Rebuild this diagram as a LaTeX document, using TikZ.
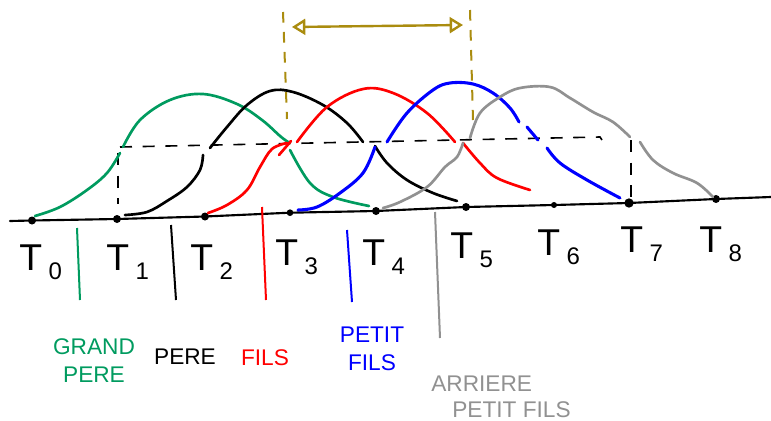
\documentclass[tikz,border=0pt]{standalone}
\usepackage{fontspec}
\setmainfont{Liberation Sans}
\usetikzlibrary{arrows.meta}
\definecolor{gen0}{RGB}{0,155,95}
\definecolor{gen4}{RGB}{145,145,145}
\definecolor{golden}{RGB}{170,140,15}
\newcommand\tlab[1]{T\hspace{5pt}\raisebox{-7pt}{\fontsize{18}{18}\selectfont #1}}
\tikzset{
  curve/.style={line width=2pt, line cap=round, line join=round},
  axisline/.style={line width=1.6pt, line cap=round},
  guide/.style={line width=1.2pt, dash pattern=on 9pt off 8pt},
  goldguide/.style={golden, line width=1.5pt, dash pattern=on 8pt off 7pt},
  sep/.style={line width=1.5pt},
  dotmark/.style={circle, fill=black, inner sep=0pt, minimum size=6pt},
  tlabel/.style={anchor=base west, inner sep=0pt, font=\fontsize{28}{28}\selectfont},
  glabel/.style={inner sep=0pt, align=center, font=\fontsize{17}{21}\selectfont}
}
\begin{document}
\begin{tikzpicture}[x=0.75pt, y=-0.75pt]
\useasboundingbox (0,0) rectangle (771,421);
% axis and tick dots
\coordinate (axL) at (10,221);
\coordinate (axR) at (771,197);
\node[dotmark] (d0) at (32,220.5) {};
\node[dotmark] (d1) at (117,219) {};
\node[dotmark] (d2) at (205,216.5) {};
\node[dotmark, minimum size=5pt] (d3) at (290,212.7) {};
\node[dotmark] (d4) at (376,211) {};
\node[dotmark] (d5) at (466,207) {};
\node[dotmark, minimum size=4.5pt] (d6) at (554,205) {};
\node[dotmark, minimum size=7pt] (d7) at (629,203) {};
\node[dotmark] (d8) at (716,199) {};
\draw[axisline] (axL) -- (d0.center) -- (d1.center) -- (d2.center) -- (d3.center) -- (d4.center) -- (d5.center) -- (d6.center) -- (d7.center) -- (d8.center) -- (axR);

% T labels
\node[tlabel] (t0) at (19,270) {\tlab{0}};
\node[tlabel] (t1) at (106,270) {\tlab{1}};
\node[tlabel] (t2) at (190,270) {\tlab{2}};
\node[tlabel] (t3) at (275,265) {\tlab{3}};
\node[tlabel] (t4) at (362,265) {\tlab{4}};
\node[tlabel] (t5) at (450,258) {\tlab{5}};
\node[tlabel] (t6) at (537,255) {\tlab{6}};
\node[tlabel] (t7) at (620,252) {\tlab{7}};
\node[tlabel] (t8) at (699,252) {\tlab{8}};

% separators
\draw[sep, gen0] (77,228) -- (80,300);
\draw[sep, black] (171,225) -- (176,300);
\draw[sep, red] (262,207) -- (266,300);
\draw[sep, blue] (347,230) -- (352,302);
\draw[sep, gen4] (435,212) -- (440,338);

% dashed guides
\coordinate (hL) at (120,147);
\coordinate (hR) at (600,137);
\draw[guide] (hL) -- (hR) -- ++(2,3);
\coordinate (v1t) at (118,153);
\coordinate (v1b) at (118,204);
\draw[guide] (v1t) -- (v1b);
\coordinate (v7t) at (631,140);
\coordinate (v7b) at (631,200);
\draw[guide] (v7t) -- (v7b);

% golden span
\coordinate (gLt) at (283,12);
\coordinate (gLb) at (287,119);
\coordinate (gRt) at (470,10);
\coordinate (gRb) at (473,120);
\draw[goldguide] (gLt) -- (gLb);
\draw[goldguide] (gRt) -- (gRb);
\coordinate (aL) at (292,27);
\coordinate (aR) at (463,25);
\draw[golden, line width=1.8pt, {Triangle[open, length=10pt, width=12pt]}-{Triangle[open, length=10pt, width=12pt]}] (aL) -- (aR);

% green (grand pere)
\draw[curve, gen0] plot[smooth, tension=0.6] coordinates {(35,216) (60,207) (87,190) (107,173) (120,153)};
\draw[curve, gen0] plot[smooth, tension=0.6] coordinates {(123,147) (140,120) (170,100) (203,94) (237,104) (262,120) (280,136) (288,142)};
\draw[curve, gen0] plot[smooth, tension=0.6] coordinates {(290,150) (310,183) (333,197) (369,206)};

% black (pere)
\draw[curve, black] plot[smooth, tension=0.6] coordinates {(125,215) (147,212) (167,201) (187,187) (200,170) (203,155)};
\draw[curve, black] plot[smooth, tension=0.6] coordinates {(210,148) (227,127) (247,105) (270,91) (293,92) (323,105) (347,123) (363,142)};
\draw[curve, black] plot[smooth, tension=0.6] coordinates {(375,146) (387,163) (407,180) (433,193) (457,201)};

% red (fils)
\draw[curve, red] plot[smooth, tension=0.6] coordinates {(208,213) (227,205) (247,190) (260,167) (272,149) (287,143)};
\draw[curve, red] (279,155) -- (291,141);
\draw[curve, red] plot[smooth, tension=0.6] coordinates {(297,142) (327,107) (363,89) (393,93) (427,113) (455,142)};
\draw[curve, red] plot[smooth, tension=0.6] coordinates {(463,143) (480,163) (497,178) (530,190)};

% blue (petit fils)
\draw[curve, blue, line width=2.3pt] plot[smooth, tension=0.6] coordinates {(298,210) (317,207) (340,193) (363,173) (375,147)};
\draw[curve, blue, line width=2.3pt] plot[smooth, tension=0.6] coordinates {(387,142) (407,113) (433,90) (450,83) (473,84) (493,93) (510,108) (519,122)};
\draw[curve, blue, line width=2.3pt] (527,127) -- (538,140);
\draw[curve, blue, line width=2.3pt] plot[smooth, tension=0.6] coordinates {(547,148) (560,163) (587,180) (620,198)};

% gray (arriere petit fils)
\draw[curve, gen4] plot[smooth, tension=0.6] coordinates {(383,208) (400,202) (427,187) (445,167) (457,157) (463,143)};
\draw[curve, gen4] plot[smooth, tension=0.6] coordinates {(470,138) (480,113) (500,97) (520,88) (550,87) (570,98) (593,112) (613,122) (630,137)};
\draw[curve, gen4] plot[smooth, tension=0.6] coordinates {(640,142) (653,160) (673,173) (697,183) (713,197)};

% generation labels
\node[glabel, gen0] (lg) at (94,361) {GRAND\\PERE};
\node[glabel, black] (lp) at (185,357) {PERE};
\node[glabel, red] (lf) at (265,358) {FILS};
\node[glabel, blue] (lpf) at (372,349) {PETIT\\FILS};
\node[glabel, gen4, anchor=west] (la1) at (431,384) {ARRIERE};
\node[glabel, gen4, anchor=west] (la2) at (452,410) {PETIT FILS};
\end{tikzpicture}
\end{document}
